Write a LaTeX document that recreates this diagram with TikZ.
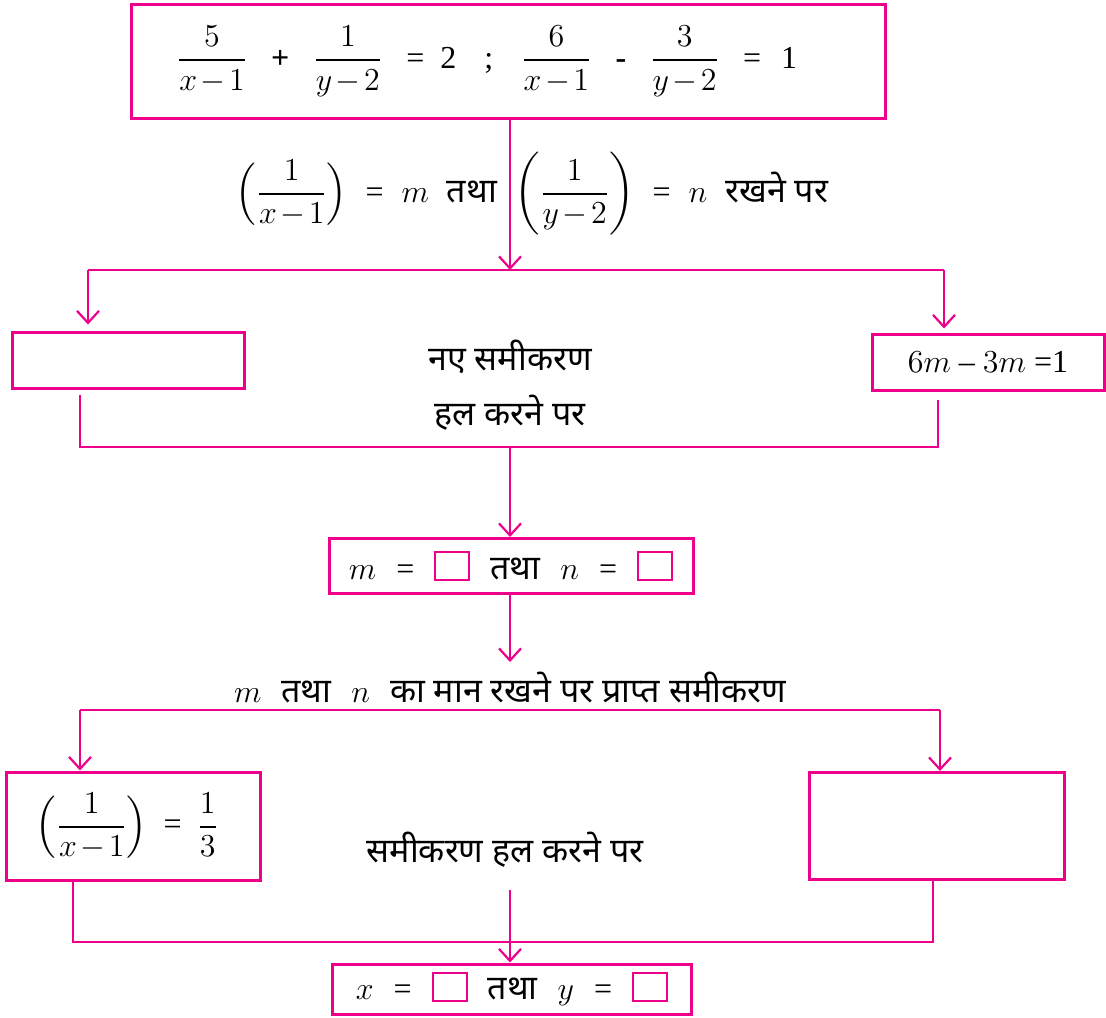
\documentclass[tikz,border=0pt]{standalone}
\usepackage{fix-cm}
\usepackage{amsmath}
\usepackage{fontspec}
\setmainfont{Liberation Serif}
\newfontfamily\hindifont[Script=Devanagari]{Noto Sans}
\usetikzlibrary{arrows.meta,positioning,calc}
\definecolor{lineMagenta}{RGB}{236,0,140}
\newcommand{\hi}[1]{{\hindifont\fontsize{17}{20}\selectfont #1}}
\newcommand{\gap}{\hspace{10pt}}
\newcommand{\tminus}{\mkern2mu{-}\mkern2mu}
\newcommand{\blank}{{\setlength{\fboxsep}{0pt}\setlength{\fboxrule}{1pt}\fcolorbox{lineMagenta}{white}{\rule{0pt}{13pt}\hspace{16pt}}}}
\tikzset{
  eqbox/.style={draw=lineMagenta, line width=1.5pt, align=center, inner sep=0pt, font=\fontsize{16}{19}\selectfont},
  txt/.style={align=center, inner sep=1pt, font=\fontsize{16}{19}\selectfont},
  arrow/.style={-{Straight Barb[length=6pt,width=11pt]}, draw=lineMagenta, line width=1.1pt},
  link/.style={draw=lineMagenta, line width=1.1pt}
}

\begin{document}
\begin{tikzpicture}[x=0.5pt,y=-0.5pt]
  \useasboundingbox (0,0) rectangle (1106,1017);

  % boxes
  \node[eqbox, minimum width=377pt, minimum height=57pt] (given) at (508,61)
    {$\dfrac{5}{x\tminus 1}$\hspace{12pt}\textbf{+}\hspace{12pt}$\dfrac{1}{y\tminus 2}$\hspace{12pt}=\hspace{8pt}2\hspace{14pt};\hspace{14pt}$\dfrac{6}{x\tminus 1}$\hspace{12pt}\textbf{-}\hspace{12pt}$\dfrac{3}{y\tminus 2}$\hspace{12pt}=\hspace{10pt}1\hspace{21pt}};
  \node[eqbox, minimum width=116pt, minimum height=28pt] (neweqA) at (128,360) {};
  \node[eqbox, minimum width=116pt, minimum height=28pt] (neweqB) at (988,362) {$6m$ -- $3m$ =1};
  \node[eqbox, minimum width=182pt, minimum height=27.5pt] (mnval) at (511,566)
    {$m$\gap=\gap\blank\gap\hi{तथा}\gap$n$\gap=\gap\blank};
  \node[eqbox, minimum width=127pt, minimum height=54pt] (xeqA) at (133,826)
    {$\left(\dfrac{1}{x\tminus 1}\right)$\hspace{8pt}=\hspace{8pt}$\dfrac{1}{3}$\hspace{6pt}};
  \node[eqbox, minimum width=127.5pt, minimum height=53.5pt] (xeqB) at (937,826) {};
  \node[eqbox, minimum width=179.5pt, minimum height=25pt] (xyval) at (512,989)
    {$x$\gap=\gap\blank\gap\hi{तथा}\gap$y$\gap=\gap\blank};

  % texts
  \node[txt] (subst) at (532,194)
    {$\left(\dfrac{1}{x\tminus 1}\right)$\hspace{9pt}=\hspace{9pt}$m$\hspace{9pt}\hi{तथा}\hspace{9pt}$\left(\dfrac{1}{y\tminus 2}\right)$\hspace{9pt}=\hspace{9pt}$n$\hspace{9pt}\hi{रखने पर}};
  \node[txt] (newtxt) at (510,357) {\hi{नए समीकरण}};
  \node[txt] (solvetxt) at (510,413) {\hi{हल करने पर}};
  \node[txt] (puttxt) at (510,687) {$m$\gap\hi{तथा}\gap$n$\gap\hi{का मान रखने पर प्राप्त समीकरण}};
  \node[txt] (solvetxtB) at (505,850) {\hi{समीकरण हल करने पर}};

  % split and join points
  \coordinate (splitA) at (510,270);
  \coordinate (splitAl) at (88,270);
  \coordinate (splitAr) at (944,270);
  \coordinate (joinA) at (510,447);
  \coordinate (joinAl) at (80,447);
  \coordinate (joinAr) at (938,447);
  \coordinate (mnend) at (510,662);
  \coordinate (splitBl) at (80,710);
  \coordinate (splitBr) at (940,710);
  \coordinate (joinBl) at (73,942);
  \coordinate (joinBr) at (933,942);
  \coordinate (joinBs) at (510,890);

  \draw[arrow] (given.south -| splitA) -- (splitA);
  \draw[link] (splitAl) -- (splitAr);
  \draw[arrow, shorten >=3pt] (splitAl) -- (splitAl |- neweqA.north);
  \draw[arrow, shorten >=2pt] (splitAr) -- (splitAr |- neweqB.north);
  \draw[link] ($(neweqA.south -| joinAl)+(0,5)$) -- (joinAl) -- (joinAr) -- ($(joinAr |- neweqB.south)+(0,8)$);
  \draw[arrow] (joinA) -- (mnval.north -| joinA);
  \draw[arrow] (mnval.south -| mnend) -- (mnend);
  \draw[link] (splitBl) -- (splitBr);
  \draw[arrow] (splitBl) -- (splitBl |- xeqA.north);
  \draw[arrow] (splitBr) -- (splitBr |- xeqB.north);
  \draw[link] (xeqA.south -| joinBl) -- (joinBl) -- (joinBr) -- (joinBr |- xeqB.south);
  \draw[arrow] (joinBs) -- (xyval.north -| joinBs);
\end{tikzpicture}
\end{document}
